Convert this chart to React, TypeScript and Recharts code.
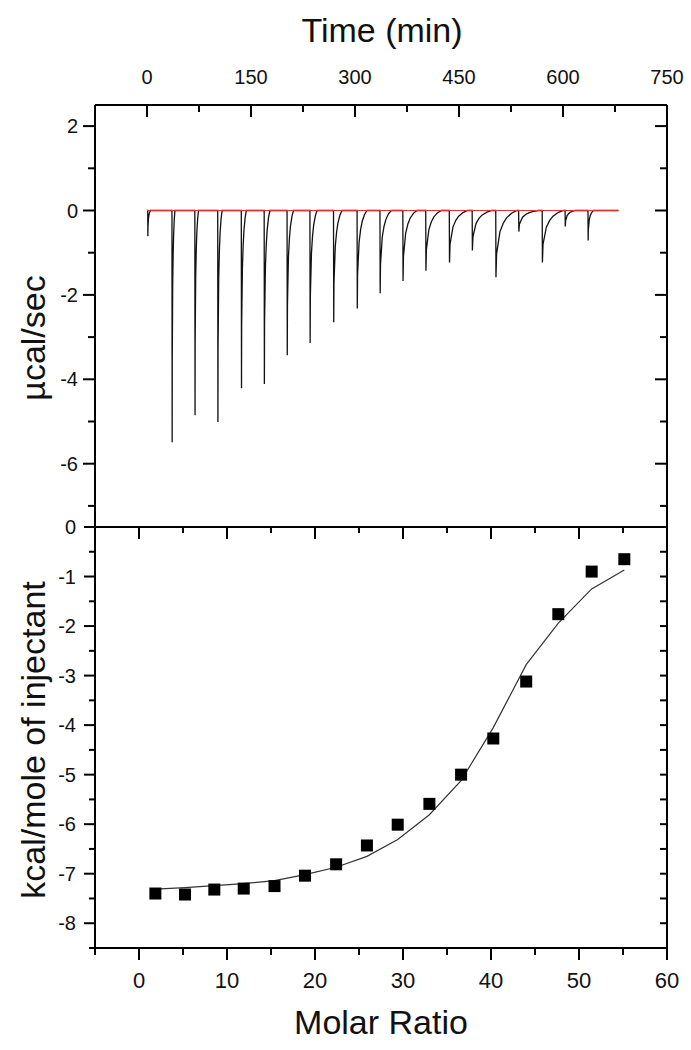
import React from 'react';
import { ComposedChart, Line, LineChart, Scatter, XAxis, YAxis } from 'recharts';

const FONT = "'Liberation Sans', Arial, Helvetica, sans-serif";

// thermogram: injection start (min), peak depth (µcal/sec), recovery width (min)
const injTime = [1, 36, 69, 102, 136, 169, 202, 235, 269, 303, 336, 369, 402, 436, 469, 503, 536, 570, 603, 636];
const injDepth = [-0.61, -5.49, -4.85, -5.01, -4.21, -4.11, -3.43, -3.14, -2.65, -2.32, -1.96, -1.67, -1.43, -1.23, -0.95, -1.58, -0.5, -1.23, -0.38, -0.71];
const injTail = [4, 4, 5, 6, 7, 8, 9, 10, 12, 14, 16, 20, 22, 26, 28, 30, 28, 30, 14, 8];
const tailPos = [0.03, 0.19, 0.35, 0.51, 0.75, 1];
const tailFrac = [0.65, 0.32, 0.19, 0.11, 0.04, 0];
const traceEnd = 680;

// integrated heats
const molarRatio = [1.86, 5.23, 8.56, 11.9, 15.4, 18.86, 22.4, 25.9, 29.4, 33.0, 36.6, 40.26, 44.0, 47.65, 51.44, 55.15];
const heat = [-7.4, -7.42, -7.32, -7.3, -7.25, -7.04, -6.81, -6.43, -6.01, -5.59, -5.0, -4.27, -3.12, -1.76, -0.9, -0.65];
const heatFit = [-7.31, -7.28, -7.24, -7.2, -7.14, -7.02, -6.87, -6.65, -6.31, -5.81, -5.12, -4.05, -2.78, -1.94, -1.25, -0.87];

const timeTicks = [0, 75, 150, 225, 300, 375, 450, 525, 600, 675, 750];
const powerTicks = [-7, -6, -5, -4, -3, -2, -1, 0, 1, 2];
const ratioTicks = [-5, 0, 5, 10, 15, 20, 25, 30, 35, 40, 45, 50, 55, 60];
const heatTicks = [-8.5, -8, -7.5, -7, -6.5, -6, -5.5, -5, -4.5, -4, -3.5, -3, -2.5, -2, -1.5, -1, -0.5, 0];

const trace: { t: number; v: number }[] = [{ t: 0, v: 0 }];
injTime.forEach((t0, i) => {
  trace.push({ t: t0, v: 0 });
  trace.push({ t: t0 + 0.3, v: injDepth[i] });
  tailPos.forEach((p, k) => trace.push({ t: t0 + 0.3 + p * injTail[i], v: injDepth[i] * tailFrac[k] }));
});
trace.push({ t: traceEnd, v: 0 });
const baseline = [{ t: 0, v: 0 }, { t: traceEnd, v: 0 }];

const points = molarRatio.map((mr, i) => ({ mr, v: heat[i] }));
const fit = molarRatio.map((mr, i) => ({ mr, v: heatFit[i] }));

type TickCfg = {
  side: 'top' | 'bottom' | 'left' | 'right';
  inward: boolean;
  step: number;
  major: number;
  minor: number;
  labels: boolean;
  gap: number;
  size: number;
};

function AxisTick(props: any) {
  const { x, y, payload, cfg } = props;
  const c: TickCfg = cfg;
  const v = payload.value;
  const isMajor = Math.abs(v / c.step - Math.round(v / c.step)) < 1e-6;
  const len = isMajor ? c.major : c.minor;
  let line;
  let label = null;
  if (c.side === 'top' || c.side === 'bottom') {
    const down = (c.side === 'top') === c.inward;
    line = <line x1={x} x2={x} y1={y} y2={down ? y + len : y - len} stroke="#000" strokeWidth={2} />;
    if (c.labels && isMajor) {
      label = (
        <text x={x} y={c.side === 'top' ? y - c.gap : y + c.gap} textAnchor="middle" fontSize={c.size} fontFamily={FONT} fill="#111">
          {v}
        </text>
      );
    }
  } else {
    const right = (c.side === 'left') === c.inward;
    line = <line y1={y} y2={y} x1={x} x2={right ? x + len : x - len} stroke="#000" strokeWidth={2} />;
    if (c.labels && isMajor) {
      label = (
        <text x={x - c.gap} y={y} dy="0.35em" textAnchor="end" fontSize={c.size} fontFamily={FONT} fill="#111">
          {v}
        </text>
      );
    }
  }
  return (
    <g>
      {line}
      {label}
    </g>
  );
}

const axisLine = { stroke: '#000', strokeWidth: 2 };

function Square(props: any) {
  const { cx, cy } = props;
  return <rect x={cx - 6} y={cy - 6} width={12} height={12} fill="#000" />;
}

const title: React.CSSProperties = {
  position: 'absolute',
  fontFamily: FONT,
  fontSize: 34,
  color: '#111',
  whiteSpace: 'nowrap',
  lineHeight: 1,
};

export default function App() {
  return (
    <div style={{ position: 'absolute', left: 0, top: 0, width: 691, height: 1050, background: '#fff' }}>
      <div style={{ position: 'absolute', left: 0, top: 0 }}>
        <LineChart width={691} height={529} margin={{ top: 104, left: 94, right: 23, bottom: 2 }}>
          <XAxis
            xAxisId="time"
            orientation="top"
            dataKey="t"
            type="number"
            domain={[-75, 750]}
            allowDataOverflow
            ticks={timeTicks}
            interval={0}
            height={1}
            tickSize={0}
            tickMargin={0}
            tickLine={false}
            axisLine={axisLine}
            tick={<AxisTick cfg={{ side: 'top', inward: true, step: 150, major: 12, minor: 7, labels: true, gap: 21, size: 20 }} />}
          />
          <YAxis
            yAxisId="l"
            type="number"
            domain={[-7.5, 2.5]}
            allowDataOverflow
            ticks={powerTicks}
            interval={0}
            width={1}
            tickSize={0}
            tickMargin={0}
            tickLine={false}
            axisLine={axisLine}
            tick={<AxisTick cfg={{ side: 'left', inward: false, step: 2, major: 12, minor: 7, labels: true, gap: 17, size: 20 }} />}
          />
          <YAxis
            yAxisId="r"
            orientation="right"
            type="number"
            domain={[-7.5, 2.5]}
            allowDataOverflow
            ticks={powerTicks}
            interval={0}
            width={1}
            tickSize={0}
            tickMargin={0}
            tickLine={false}
            axisLine={axisLine}
            tick={<AxisTick cfg={{ side: 'right', inward: true, step: 2, major: 12, minor: 7, labels: false, gap: 0, size: 0 }} />}
          />
          <Line
            xAxisId="time"
            yAxisId="l"
            data={trace}
            dataKey="v"
            type="linear"
            stroke="#111"
            strokeWidth={1.3}
            dot={false}
            isAnimationActive={false}
          />
          <Line
            xAxisId="time"
            yAxisId="r"
            data={baseline}
            dataKey="v"
            type="linear"
            stroke="#e0332b"
            strokeWidth={1}
            dot={false}
            isAnimationActive={false}
          />
        </LineChart>
      </div>
      <div style={{ position: 'absolute', left: 0, top: 500 }}>
        <ComposedChart width={691} height={550} margin={{ top: 26, left: 94, right: 23, bottom: 101 }}>
          <XAxis
            xAxisId="b"
            dataKey="mr"
            type="number"
            domain={[-5, 60]}
            allowDataOverflow
            ticks={ratioTicks}
            interval={0}
            height={1}
            tickSize={0}
            tickMargin={0}
            tickLine={false}
            axisLine={axisLine}
            tick={<AxisTick cfg={{ side: 'bottom', inward: false, step: 10, major: 12, minor: 7, labels: true, gap: 40, size: 22 }} />}
          />
          <XAxis
            xAxisId="t"
            orientation="top"
            dataKey="mr"
            type="number"
            domain={[-5, 60]}
            allowDataOverflow
            ticks={ratioTicks}
            interval={0}
            height={1}
            tickSize={0}
            tickMargin={0}
            tickLine={false}
            axisLine={axisLine}
            tick={<AxisTick cfg={{ side: 'top', inward: true, step: 10, major: 12, minor: 6, labels: false, gap: 0, size: 0 }} />}
          />
          <YAxis
            yAxisId="l"
            dataKey="v"
            type="number"
            domain={[-8.5, 0]}
            allowDataOverflow
            ticks={heatTicks}
            interval={0}
            width={1}
            tickSize={0}
            tickMargin={0}
            tickLine={false}
            axisLine={axisLine}
            tick={<AxisTick cfg={{ side: 'left', inward: false, step: 1, major: 11, minor: 6, labels: true, gap: 19, size: 20 }} />}
          />
          <YAxis
            yAxisId="r"
            orientation="right"
            dataKey="v"
            type="number"
            domain={[-8.5, 0]}
            allowDataOverflow
            ticks={heatTicks}
            interval={0}
            width={1}
            tickSize={0}
            tickMargin={0}
            tickLine={false}
            axisLine={axisLine}
            tick={<AxisTick cfg={{ side: 'right', inward: true, step: 1, major: 7, minor: 7, labels: false, gap: 0, size: 0 }} />}
          />
          <Line
            xAxisId="t"
            yAxisId="r"
            data={fit}
            dataKey="v"
            type="linear"
            stroke="#333"
            strokeWidth={1.2}
            dot={false}
            isAnimationActive={false}
          />
          <Scatter
            xAxisId="b"
            yAxisId="l"
            data={points}
            dataKey="v"
            shape={<Square />}
            isAnimationActive={false}
          />
        </ComposedChart>
      </div>
      <div style={{ ...title, left: 382, top: 30, transform: 'translate(-50%, -50%)' }}>Time (min)</div>
      <div style={{ ...title, left: 381, top: 1022, transform: 'translate(-50%, -50%)' }}>Molar Ratio</div>
      <div style={{ ...title, left: 33, top: 338, transform: 'translate(-50%, -50%) rotate(-90deg)' }}>µcal/sec</div>
      <div style={{ ...title, left: 33, top: 740, transform: 'translate(-50%, -50%) rotate(-90deg)' }}>kcal/mole of injectant</div>
    </div>
  );
}
